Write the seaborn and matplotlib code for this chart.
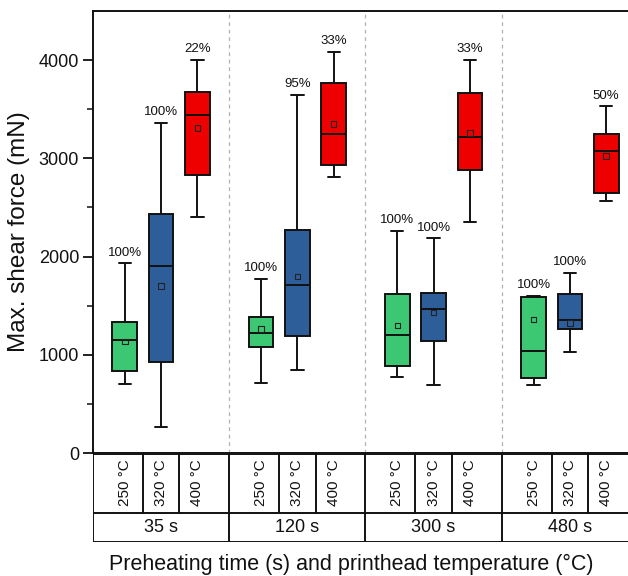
import numpy as np
import pandas as pd
import matplotlib
matplotlib.use("Agg")
import matplotlib.pyplot as plt
import seaborn as sns

# Preheating times and printhead temperatures
times = ["35 s", "120 s", "300 s", "480 s"]
temps = ["250 °C", "320 °C", "400 °C"]

# Box statistics (mN), ordered time-major: 35 s (250, 320, 400), 120 s (...), ...
whisker_low = [705, 265, 2402, 712, 845, 2806, 773, 689, 2354, 692, 1028, 2568]
q1 = [835, 929, 2826, 1076, 1194, 2931, 885, 1143, 2880, 766, 1259, 2643]
median = [1153, 1907, 3440, 1221, 1710, 3247, 1201, 1462, 3213, 1038, 1354, 3071]
q3 = [1336, 2433, 3674, 1387, 2270, 3769, 1615, 1628, 3661, 1591, 1622, 3244]
whisker_high = [1930, 3362, 4000, 1771, 3647, 4085, 2263, 2185, 4000, 1600, 1835, 3529]
mean = [1137, 1703, 3308, 1265, 1795, 3352, 1300, 1432, 3260, 1357, 1323, 3023]
success = ["100%", "100%", "22%", "100%", "95%", "33%",
           "100%", "100%", "33%", "100%", "100%", "50%"]

palette = {"250 °C": "#3cc872", "320 °C": "#2e5e9a", "400 °C": "#ee0000"}

# Long table: five-number summary per group feeds seaborn's boxplot
rows = []
for i in range(len(median)):
    t = times[i // 3]
    c = temps[i % 3]
    for v in (whisker_low[i], q1[i], median[i], q3[i], whisker_high[i]):
        rows.append({"time": t, "temp": c, "force": v})
df = pd.DataFrame(rows)
means_df = pd.DataFrame({
    "time": [times[i // 3] for i in range(len(mean))],
    "temp": [temps[i % 3] for i in range(len(mean))],
    "force": mean,
})

sns.set_theme(style="white")
plt.rcParams["font.family"] = ["Liberation Sans", "DejaVu Sans"]

fig = plt.figure(figsize=(6.28, 5.76), dpi=100)
ax = fig.add_axes([93 / 628, 1 - 453 / 576, 545 / 628, 442 / 576])
tax = fig.add_axes([93 / 628, 1 - 542 / 576, 545 / 628, 89 / 576], sharex=ax)

lw = 1.4
sns.boxplot(
    data=df, x="time", y="force", hue="temp", order=times, hue_order=temps,
    palette=palette, whis=(0, 100), width=0.8, gap=0.32, saturation=1,
    linewidth=lw, linecolor="#111111", showfliers=False, legend=False, ax=ax,
)

# Mean markers at the dodged box positions
offsets = {"250 °C": -0.8 / 3, "320 °C": 0.0, "400 °C": 0.8 / 3}
mx = [times.index(t) + offsets[c] for t, c in zip(means_df["time"], means_df["temp"])]
ax.scatter(mx, means_df["force"], marker="s", s=16, facecolors="none",
           edgecolors="#222222", linewidths=0.8, zorder=5)

# Success-rate labels above upper whiskers
for i, lab in enumerate(success):
    x = i // 3 + offsets[temps[i % 3]]
    ax.annotate(lab, (x, whisker_high[i]), xytext=(0, 3.5), textcoords="offset points",
                ha="center", va="bottom", fontsize=9.5, color="#111111")

# Group separators
for xs in (0.5, 1.5, 2.5):
    ax.axvline(xs, color="#b0b0b0", lw=0.9, ls=(0, (3, 3)), zorder=0)

ax.set_xlim(-0.5, 3.5)
ax.set_ylim(0, 4500)
ax.set_yticks([0, 1000, 2000, 3000, 4000])
ax.set_yticks([500, 1500, 2500, 3500], minor=True)
ax.tick_params(axis="y", which="major", direction="out", length=7, width=1.3,
               labelsize=13, color="#111111", labelcolor="#111111", left=True, pad=3)
ax.tick_params(axis="y", which="minor", direction="out", length=4, width=1.1,
               color="#111111", left=True)
ax.tick_params(axis="x", which="both", bottom=False, labelbottom=False)
ax.set_xlabel("")
ax.set_ylabel("Max. shear force (mN)", fontsize=17.5, color="#111111", labelpad=6)
for side in ("left", "top", "bottom"):
    ax.spines[side].set_color("#111111")
    ax.spines[side].set_linewidth(1.4)
ax.spines["right"].set_visible(False)

# Category table under the plot
tax.set_ylim(0, 2)
tax.set_xlim(-0.5, 3.5)
for s in tax.spines.values():
    s.set_visible(False)
tax.tick_params(left=False, bottom=False, labelleft=False, labelbottom=False)
tax.grid(False)
tax.axhline(1.98, color="#111111", lw=1.4)
tax.axhline(0.66, color="#111111", lw=1.4)
tax.axhline(0.01, color="#111111", lw=1.4)
for xs in (-0.5, 0.5, 1.5, 2.5):
    tax.plot([xs, xs], [0, 2], color="#111111", lw=1.4, solid_capstyle="butt")
for g, t in enumerate(times):
    for k, c in enumerate(temps):
        x = g + offsets[c]
        tax.text(x, 1.33, c, rotation=90, ha="center", va="center",
                 fontsize=11, color="#111111")
        if k < 2:
            tax.plot([x + 0.4 / 3, x + 0.4 / 3], [0.66, 2], color="#111111", lw=1.4)
    tax.text(g, 0.33, t, ha="center", va="center", fontsize=13, color="#111111")

fig.text(351 / 628, 1 - 564 / 576, "Preheating time (s) and printhead temperature (°C)",
         ha="center", va="center", fontsize=15.5, color="#111111")

fig.savefig("out.png", dpi=100)
